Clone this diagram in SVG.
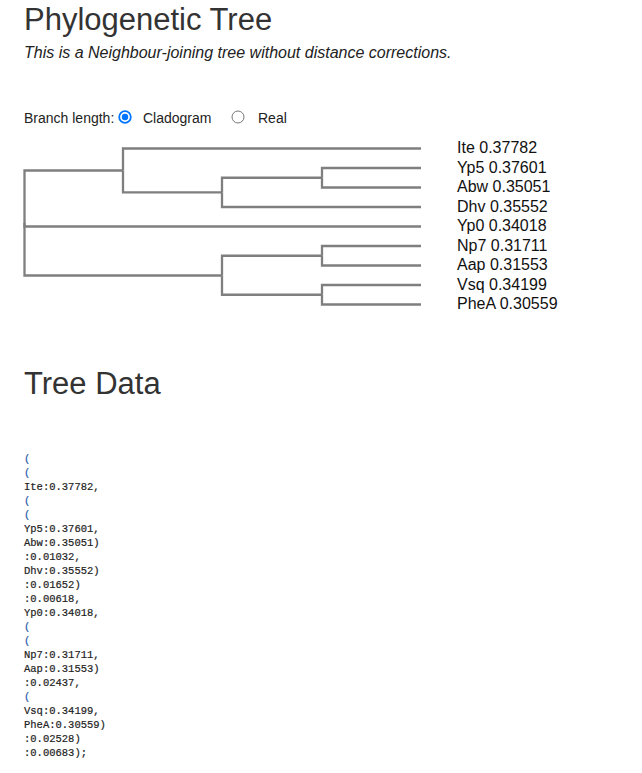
<svg xmlns="http://www.w3.org/2000/svg" width="642" height="773" viewBox="0 0 642 773">
<style>
.h{font-family:"Liberation Sans",Arial,sans-serif;font-size:31px;fill:#333}
.sub{font-family:"Liberation Sans",Arial,sans-serif;font-size:16px;font-style:italic;fill:#222}
.ui{font-family:"Liberation Sans",Arial,sans-serif;font-size:14px;fill:#222}
.lab{font-family:"Liberation Sans",Arial,sans-serif;font-size:16px;fill:#111}
.link{fill:none;stroke:#7f7f7f;stroke-width:2.3}
.code{font-family:"Liberation Mono","DejaVu Sans Mono",monospace;font-size:10.5px;fill:#222;stroke:#222;stroke-width:0.2}
.par{fill:#2a5aa8;stroke:#2a5aa8}
</style>
<rect width="642" height="773" fill="#fff"/>
<text class="h" x="24" y="29.5">Phylogenetic Tree</text>
<text class="sub" x="24" y="57.5">This is a Neighbour-joining tree without distance corrections.</text>
<g id="controls">
<text class="ui" x="24" y="123">Branch length:</text>
<circle cx="125" cy="117" r="5.8" fill="#fff" stroke="#0075ff" stroke-width="1.8"/>
<circle cx="125" cy="117" r="3.2" fill="#0075ff"/>
<text class="ui" x="143" y="123">Cladogram</text>
<circle cx="238" cy="117" r="6" fill="#fff" stroke="#767676" stroke-width="1"/>
<text class="ui" x="258" y="123">Real</text>
</g>
<g id="connectors">
<path class="link" d="M24.5,223 V170.5 H123"/>
<path class="link" d="M24.5,223 V226.5 H421"/>
<path class="link" d="M24.5,223 V275.5 H222"/>
<path class="link" d="M123,170.5 V148.5 H421"/>
<path class="link" d="M123,170.5 V192.4 H222"/>
<path class="link" d="M222,192.4 V177.75 H322"/>
<path class="link" d="M222,192.4 V207 H421"/>
<path class="link" d="M322,177.75 V168 H421"/>
<path class="link" d="M322,177.75 V187.5 H421"/>
<path class="link" d="M222,275.5 V255.75 H322"/>
<path class="link" d="M222,275.5 V294.75 H322"/>
<path class="link" d="M322,255.75 V246 H421"/>
<path class="link" d="M322,255.75 V265.5 H421"/>
<path class="link" d="M322,294.75 V285 H421"/>
<path class="link" d="M322,294.75 V304.5 H421"/>
</g>
<g id="leaf-Ite"><text class="lab" x="457" y="153">Ite 0.37782</text></g>
<g id="leaf-Yp5"><text class="lab" x="457" y="172.5">Yp5 0.37601</text></g>
<g id="leaf-Abw"><text class="lab" x="457" y="192">Abw 0.35051</text></g>
<g id="leaf-Dhv"><text class="lab" x="457" y="211.5">Dhv 0.35552</text></g>
<g id="leaf-Yp0"><text class="lab" x="457" y="231">Yp0 0.34018</text></g>
<g id="leaf-Np7"><text class="lab" x="457" y="250.5">Np7 0.31711</text></g>
<g id="leaf-Aap"><text class="lab" x="457" y="270">Aap 0.31553</text></g>
<g id="leaf-Vsq"><text class="lab" x="457" y="289.5">Vsq 0.34199</text></g>
<g id="leaf-PheA"><text class="lab" x="457" y="309">PheA 0.30559</text></g>
<text class="h" x="24" y="393.5">Tree Data</text>
<g id="tree-data" class="code">
<text x="24" y="462" class="par">(</text>
<text x="24" y="476" class="par">(</text>
<text x="24" y="490">Ite:0.37782,</text>
<text x="24" y="504" class="par">(</text>
<text x="24" y="518" class="par">(</text>
<text x="24" y="532">Yp5:0.37601,</text>
<text x="24" y="546">Abw:0.35051)</text>
<text x="24" y="560">:0.01032,</text>
<text x="24" y="574">Dhv:0.35552)</text>
<text x="24" y="588">:0.01652)</text>
<text x="24" y="602">:0.00618,</text>
<text x="24" y="616">Yp0:0.34018,</text>
<text x="24" y="630" class="par">(</text>
<text x="24" y="644" class="par">(</text>
<text x="24" y="658">Np7:0.31711,</text>
<text x="24" y="672">Aap:0.31553)</text>
<text x="24" y="686">:0.02437,</text>
<text x="24" y="700" class="par">(</text>
<text x="24" y="714">Vsq:0.34199,</text>
<text x="24" y="728">PheA:0.30559)</text>
<text x="24" y="742">:0.02528)</text>
<text x="24" y="756">:0.00683);</text>
</g>
</svg>
